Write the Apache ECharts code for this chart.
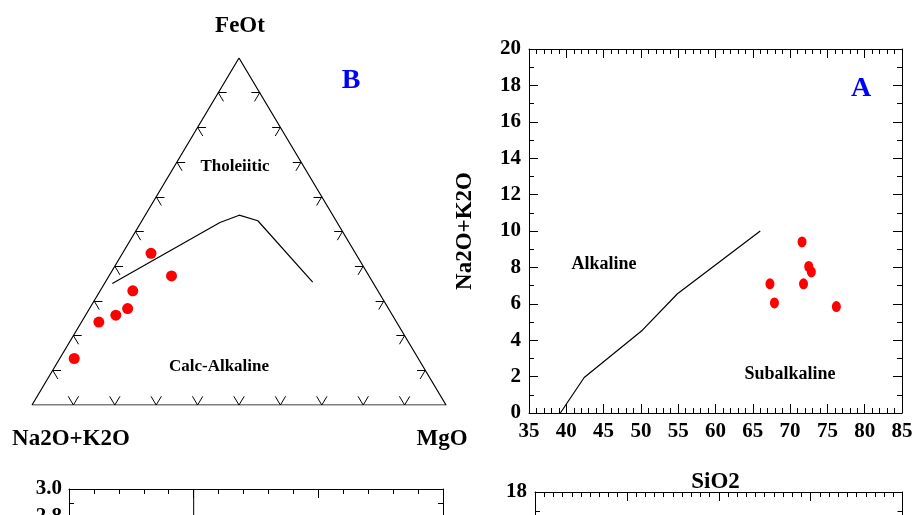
<!DOCTYPE html>
<html>
<head>
<meta charset="utf-8">
<script src="https://cdn.jsdelivr.net/npm/echarts@6/dist/echarts.min.js"></script>
<style>html,body{margin:0;padding:0;background:#fff;overflow:hidden;width:916px;height:515px}#c{width:916px;height:880px}</style>
</head>
<body>
<div id="c"></div>
<script>
// ---- AFM ternary (B): [Na2O+K2O, MgO, FeOt] in %
const afmSamples = [
  [49.4, 6.9, 43.7],
  [47.7, 15.1, 37.2],
  [59.2, 7.9, 32.9],
  [63.0, 9.2, 27.8],
  [66.8, 7.3, 25.9],
  [71.9, 4.2, 23.9],
  [83.1, 3.5, 13.4]
];
const afmBoundary = [
  [63.1, 1.9, 35.0],
  [28.3, 19.1, 52.6],
  [22.6, 22.7, 54.7],
  [18.9, 28.0, 53.1],
  [14.5, 50.1, 35.4]
];
const afmVertices = [[100, 0, 0], [0, 100, 0], [0, 0, 100], [100, 0, 0]];
const afmTicks = [10, 20, 30, 40, 50, 60, 70, 80, 90];

// ---- TAS (A)
const silica = [67.3, 67.9, 71.6, 71.8, 72.5, 72.85, 76.2];
const alkalis = [7.1, 6.05, 9.4, 7.1, 8.05, 7.75, 5.85];
const tasSilica = [39.2, 42.4, 50.2, 54.9, 66.0];
const tasAlkali = [0, 1.95, 4.55, 6.55, 10.0];

// ---- lower panels (only top visible)
const acnkDivider = [[1.0, 0.4], [1.0, 3.0]];

const FONT = '"Liberation Serif","Times New Roman",serif';

// ternary [A, M, F] -> cartesian [x, y]
function tern(p) { return [p[1] + p[2] / 2, p[2]]; }
function add(p, d) { return [p[0] + d[0], p[1] + d[1], p[2] + d[2]]; }

// ternary tick segments
const tickSegs = [];
const L1 = 2.0, L2 = 2.5;
afmTicks.forEach(function (t) {
  const b = [100 - t, t, 0];
  tickSegs.push({coords: [tern(b), tern(add(b, [0, -L2, L2]))]});
  tickSegs.push({coords: [tern(b), tern(add(b, [-L2, 0, L2]))]});
  const l = [100 - t, 0, t];
  tickSegs.push({coords: [tern(l), tern(add(l, [-L1, L1, 0]))]});
  tickSegs.push({coords: [tern(l), tern(add(l, [0, L2, -L2]))]});
  const r = [0, 100 - t, t];
  tickSegs.push({coords: [tern(r), tern(add(r, [L1, -L1, 0]))]});
  tickSegs.push({coords: [tern(r), tern(add(r, [L2, 0, -L2]))]});
});

const blk = {color: '#000', width: 1};
function boxAxis(grid, min, max, interval, minorSplit, pos, showLabel, extra) {
  return Object.assign({
    gridIndex: grid, type: 'value', min: min, max: max, interval: interval, position: pos,
    axisLine: {show: true, onZero: false, lineStyle: blk},
    axisTick: {show: true, inside: true, length: 9, lineStyle: blk},
    minorTick: {show: true, splitNumber: minorSplit, length: 5, lineStyle: blk},
    splitLine: {show: false}, minorSplitLine: {show: false},
    axisLabel: {show: showLabel, color: '#000', fontFamily: FONT, fontWeight: 'bold', fontSize: 21, margin: 8}
  }, extra || {});
}

const chart = echarts.init(document.getElementById('c'), null, {renderer: 'canvas'});
const option = {
  animation: false,
  backgroundColor: '#fff',
  grid: [
    {left: 32, top: 58, width: 414, height: 347},
    {left: 529, top: 49, width: 373, height: 364},
    {left: 69, top: 489, width: 374, height: 364},
    {left: 535, top: 492, width: 371, height: 342}
  ],
  xAxis: [
    {gridIndex: 0, type: 'value', min: 0, max: 100, show: false},
    boxAxis(1, 35, 85, 5, 5, 'bottom', true, {name: 'SiO2', nameLocation: 'middle', nameGap: 58,
      nameTextStyle: {color: '#000', fontFamily: FONT, fontWeight: 'bold', fontSize: 23}}),
    boxAxis(1, 35, 85, 5, 5, 'top', false),
    boxAxis(2, 0.5, 2.0, 0.5, 5, 'bottom', true),
    boxAxis(2, 0.5, 2.0, 0.5, 5, 'top', false),
    boxAxis(3, 40, 80, 10, 10, 'bottom', true),
    boxAxis(3, 40, 80, 10, 10, 'top', false)
  ],
  yAxis: [
    {gridIndex: 0, type: 'value', min: 0, max: 100, show: false},
    boxAxis(1, 0, 20, 2, 2, 'left', true, {name: 'Na2O+K2O', nameLocation: 'middle', nameGap: 52, nameRotate: 90,
      nameTextStyle: {color: '#000', fontFamily: FONT, fontWeight: 'bold', fontSize: 23}}),
    boxAxis(1, 0, 20, 2, 2, 'right', false),
    boxAxis(2, 0.4, 3.0, 0.2, 2, 'left', true, {axisLabel: {show: true, color: '#000', fontFamily: FONT, fontWeight: 'bold', fontSize: 21, margin: 7,
      formatter: function (v) { return v.toFixed(1); }}}),
    boxAxis(2, 0.4, 3.0, 0.2, 2, 'right', false),
    boxAxis(3, 0, 18, 2, 2, 'left', true),
    boxAxis(3, 0, 18, 2, 2, 'right', false)
  ],
  series: [
    {type: 'line', xAxisIndex: 0, yAxisIndex: 0, data: afmVertices.map(tern), symbol: 'none',
      lineStyle: {color: '#000', width: 1.2}, silent: true},
    {type: 'lines', coordinateSystem: 'cartesian2d', xAxisIndex: 0, yAxisIndex: 0, data: tickSegs,
      lineStyle: {color: '#000', width: 1, opacity: 1}, silent: true},
    {type: 'line', xAxisIndex: 0, yAxisIndex: 0, data: afmBoundary.map(tern), symbol: 'none',
      lineStyle: {color: '#000', width: 1.2}, silent: true},
    {type: 'scatter', xAxisIndex: 0, yAxisIndex: 0, data: afmSamples.map(tern), symbolSize: 11,
      itemStyle: {color: '#ff0000', opacity: 1}, z: 5},
    {type: 'line', xAxisIndex: 1, yAxisIndex: 1, data: tasSilica.map(function (s, i) { return [s, tasAlkali[i]]; }),
      symbol: 'none', lineStyle: {color: '#000', width: 1.2}, silent: true},
    {type: 'scatter', xAxisIndex: 1, yAxisIndex: 1, data: silica.map(function (s, i) { return [s, alkalis[i]]; }),
      symbolSize: [9, 11], itemStyle: {color: '#ff0000', opacity: 1}, z: 5},
    {type: 'line', xAxisIndex: 3, yAxisIndex: 3, data: acnkDivider, symbol: 'none', lineStyle: blk, silent: true}
  ],
  graphic: [
    {type: 'text', x: 240, y: 26, style: {text: 'FeOt', font: 'bold 23px ' + FONT, fill: '#000', align: 'center', verticalAlign: 'middle'}},
    {type: 'text', x: 351, y: 81, style: {text: 'B', font: 'bold 28px ' + FONT, fill: '#0000ff', align: 'center', verticalAlign: 'middle'}},
    {type: 'text', x: 235, y: 167, style: {text: 'Tholeiitic', font: 'bold 17px ' + FONT, fill: '#000', align: 'center', verticalAlign: 'middle'}},
    {type: 'text', x: 219, y: 367, style: {text: 'Calc-Alkaline', font: 'bold 17px ' + FONT, fill: '#000', align: 'center', verticalAlign: 'middle'}},
    {type: 'text', x: 71, y: 439, style: {text: 'Na2O+K2O', font: 'bold 23px ' + FONT, fill: '#000', align: 'center', verticalAlign: 'middle'}},
    {type: 'text', x: 442, y: 439, style: {text: 'MgO', font: 'bold 23px ' + FONT, fill: '#000', align: 'center', verticalAlign: 'middle'}},
    {type: 'text', x: 861, y: 89, style: {text: 'A', font: 'bold 28px ' + FONT, fill: '#0000ff', align: 'center', verticalAlign: 'middle'}},
    {type: 'text', x: 604, y: 264, style: {text: 'Alkaline', font: 'bold 18px ' + FONT, fill: '#000', align: 'center', verticalAlign: 'middle'}},
    {type: 'text', x: 790, y: 374, style: {text: 'Subalkaline', font: 'bold 18px ' + FONT, fill: '#000', align: 'center', verticalAlign: 'middle'}}
  ]
};
chart.setOption(option);
</script>
</body>
</html>
